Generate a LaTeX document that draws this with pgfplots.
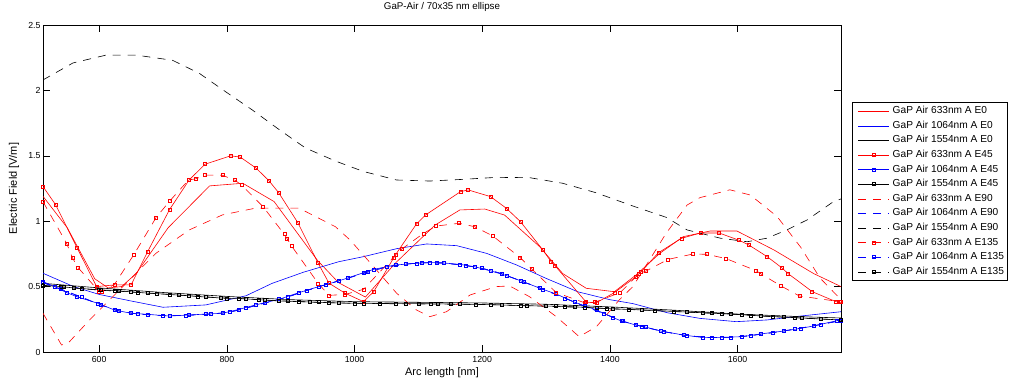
\documentclass[border=0pt]{standalone}
\usepackage{fontspec}
\setmainfont{Liberation Sans}
\usepackage{pgfplots}
\pgfplotsset{compat=1.18}
\definecolor{mred}{rgb}{1,0,0}
\definecolor{mblue}{rgb}{0,0,1}
\begin{document}
\begin{tikzpicture}
\useasboundingbox (-43bp,-33bp) rectangle (968bp,352bp);
\begin{axis}[
  at={(0,0)}, anchor=south west,
  width=798bp, height=327bp, scale only axis,
  xmin=512, xmax=1762, ymin=0, ymax=2.5,
  xtick={600,800,...,1600}, ytick={0,0.5,1,1.5,2,2.5},
  yticklabels={0,0.5,1,1.5,2,2.5},
  tick align=inside, major tick length=7bp,
  axis line style={line width=0.8pt},
  every tick/.style={black, line width=0.6pt},
  tick label style={font=\fontsize{8.8}{9.5}\selectfont},
  /pgf/number format/assume math mode=true,
  /pgf/number format/1000 sep={},
  xticklabel style={yshift=-1bp},
  yticklabel style={xshift=1bp},
  title={GaP-Air / 70x35 nm ellipse},
  title style={font=\fontsize{9.8}{11}\selectfont, at={(axis description cs:0.5,1)}, anchor=south, yshift=4bp},
  xlabel={Arc length [nm]},
  ylabel={Electric Field [V/m]},
  xlabel style={font=\fontsize{11}{12}\selectfont, at={(axis description cs:0.5,-0.0642)}, anchor=center},
  ylabel style={font=\fontsize{11}{12}\selectfont, at={(axis description cs:-0.0363,0.5)}, anchor=center},
  legend style={at={(axis description cs:1.0138,0.765)}, anchor=north west,
    font=\fontsize{10.2}{11}\selectfont, draw=black, line width=0.8pt,
    nodes={inner sep=1bp, text height=7.5bp, text depth=2.5bp},
    row sep=2.6bp, column sep=2.3bp, inner xsep=2.4bp, inner ysep=3bp},
  legend cell align=left,
  legend image code/.code={\path (0bp,0bp); \draw[mark repeat=2,mark phase=2,#1] plot coordinates {(3bp,0bp) (18.5bp,0bp) (34bp,0bp)};},
  every axis plot/.append style={line width=0.6bp},
  mk/.style={mark=square, mark size=1.5bp, mark options={solid, fill=none}},
  dsh/.style={dash pattern=on 8bp off 7bp},
]
% ---------- E0 ----------
\addplot[mred, no marks] coordinates {
(512,1.19) (550,0.95) (593,0.56) (614,0.49) (635,0.50) (658,0.60) (708,0.95) (773,1.27) (825,1.29) (874,1.15) (942,0.70) (975,0.53) (1017,0.42) (1064,0.68) (1126,0.97) (1165,1.086) (1204,1.093) (1235,1.047) (1290,0.805) (1326,0.60) (1363,0.487) (1407,0.461) (1441,0.589) (1478,0.754) (1515,0.882) (1557,0.925) (1599,0.925) (1657,0.78) (1719,0.60) (1762,0.50)};
\addlegendentry{GaP Air 633nm A E0}
\addplot[mblue, no marks] coordinates {
(512,0.602) (560,0.50) (600,0.44) (650,0.39) (700,0.342) (767,0.36) (830,0.43) (871,0.525) (920,0.61) (975,0.69) (1014,0.729) (1066,0.79) (1113,0.826) (1160,0.813) (1207,0.754) (1254,0.665) (1300,0.563) (1350,0.46) (1400,0.40) (1436,0.37) (1490,0.30) (1541,0.257) (1598,0.232) (1646,0.245) (1699,0.275) (1762,0.308)};
\addlegendentry{GaP Air 1064nm A E0}
\addplot[black, no marks] coordinates {
(512,0.525) (600,0.49) (700,0.455) (800,0.425) (900,0.40) (1000,0.385) (1100,0.38) (1200,0.375) (1300,0.365) (1400,0.345) (1500,0.32) (1600,0.29) (1700,0.27) (1762,0.26)};
\addlegendentry{GaP Air 1554nm A E0}
% ---------- E45 ----------
\addplot[mred, mk] coordinates {
(512,1.265) (532,1.124) (565,0.80) (596,0.50) (624,0.513) (650,0.513) (676,0.768) (710,1.087) (741,1.316) (766,1.436) (806,1.50) (821,1.49) (846,1.405) (866,1.309) (881,1.219) (911,0.99) (943,0.679) (960,0.526) (985,0.45) (1014,0.385) (1030,0.461) (1064,0.742) (1097,0.979) (1111,1.047) (1166,1.226) (1178,1.239) (1213,1.188) (1238,1.098) (1260,0.996) (1295,0.78) (1308,0.69) (1314,0.66) (1363,0.38) (1379,0.377) (1407,0.454) (1441,0.576) (1449,0.614) (1476,0.759) (1512,0.869) (1542,0.91) (1571,0.91) (1602,0.855) (1617,0.82) (1646,0.73) (1669,0.645) (1679,0.60) (1717,0.461) (1754,0.385) (1762,0.38)};
\addlegendentry{GaP Air 633nm A E45}
\addplot[mblue, mk] coordinates {
(512,0.538) (530,0.50) (549,0.454) (565,0.423) (598,0.372) (624,0.321) (650,0.296) (676,0.288) (710,0.275) (741,0.283) (767,0.29) (793,0.296) (819,0.326) (845,0.36) (882,0.403) (913,0.454) (944,0.50) (975,0.543) (1014,0.606) (1030,0.632) (1064,0.665) (1097,0.678) (1118,0.685) (1129,0.685) (1165,0.670) (1188,0.652) (1214,0.619) (1238,0.584) (1261,0.543) (1295,0.479) (1316,0.443) (1345,0.38) (1379,0.321) (1404,0.265) (1418,0.237) (1441,0.206) (1457,0.189) (1480,0.16) (1515,0.13) (1546,0.11) (1575,0.112) (1607,0.117) (1636,0.138) (1672,0.16) (1699,0.181) (1719,0.199) (1756,0.24) (1762,0.245)};
\addlegendentry{GaP Air 1064nm A E45}
\addplot[black, mk] coordinates {
(512,0.51) (540,0.50) (560,0.49) (600,0.475) (625,0.47) (650,0.46) (676,0.45) (710,0.44) (741,0.43) (767,0.42) (800,0.41) (819,0.41) (850,0.40) (882,0.39) (913,0.385) (944,0.38) (975,0.375) (1014,0.372) (1064,0.37) (1100,0.37) (1130,0.368) (1165,0.366) (1214,0.362) (1260,0.355) (1316,0.35) (1345,0.345) (1379,0.337) (1404,0.33) (1450,0.322) (1500,0.31) (1546,0.30) (1575,0.293) (1607,0.285) (1636,0.276) (1672,0.267) (1700,0.26) (1762,0.245)};
\addlegendentry{GaP Air 1554nm A E45}
% ---------- E90 ----------
\addplot[mred, no marks, dsh] coordinates {
(512,0.296) (541,0.054) (551,0.066) (585,0.245) (637,0.50) (689,0.755) (741,0.933) (793,1.048) (845,1.10) (882,1.10) (913,1.10) (970,0.958) (993,0.856) (1030,0.652) (1066,0.449) (1097,0.321) (1118,0.27) (1144,0.308) (1181,0.436) (1222,0.50) (1243,0.505) (1274,0.423) (1316,0.27) (1352,0.117) (1379,0.194) (1415,0.40) (1436,0.50) (1488,0.907) (1521,1.124) (1541,1.18) (1588,1.24) (1620,1.20) (1662,1.035) (1699,0.80) (1729,0.566) (1762,0.40)};
\addlegendentry{GaP Air 633nm A E90}
\addplot[mblue, no marks, dsh] coordinates {
(512,0.53) (540,0.48) (572,0.42) (602,0.36) (630,0.315) (660,0.29) (700,0.278) (735,0.28) (775,0.29) (805,0.305) (830,0.335) (860,0.375) (895,0.42) (925,0.47) (955,0.515) (990,0.565) (1020,0.61) (1050,0.65) (1080,0.672) (1105,0.682) (1140,0.68) (1175,0.66) (1200,0.64) (1230,0.60) (1265,0.535) (1290,0.49) (1330,0.41) (1360,0.35) (1390,0.295) (1420,0.235) (1450,0.195) (1485,0.155) (1520,0.125) (1560,0.11) (1590,0.112) (1620,0.125) (1655,0.148) (1690,0.175) (1730,0.21) (1762,0.24)};
\addlegendentry{GaP Air 1064nm A E90}
\addplot[black, no marks, dsh] coordinates {
(512,2.08) (559,2.21) (611,2.27) (658,2.27) (715,2.23) (757,2.13) (798,1.99) (840,1.85) (882,1.70) (923,1.56) (970,1.46) (1014,1.38) (1066,1.315) (1118,1.307) (1170,1.32) (1222,1.335) (1274,1.333) (1326,1.29) (1378,1.218) (1436,1.116) (1488,1.03) (1521,0.933) (1573,0.87) (1615,0.843) (1646,0.87) (1677,0.933) (1709,1.01) (1750,1.149) (1762,1.17)};
\addlegendentry{GaP Air 1554nm A E90}
% ---------- E135 ----------
\addplot[mred, mk, dsh] coordinates {
(512,1.149) (549,0.831) (558,0.721) (567,0.645) (600,0.461) (604,0.461) (624,0.517) (654,0.742) (689,1.027) (711,1.157) (740,1.315) (752,1.325) (766,1.353) (793,1.351) (812,1.315) (823,1.277) (857,1.109) (890,0.90) (894,0.869) (901,0.813) (943,0.525) (960,0.433) (985,0.44) (1014,0.479) (1061,0.724) (1074,0.787) (1108,0.907) (1128,0.963) (1164,0.984) (1188,0.958) (1216,0.889) (1259,0.724) (1277,0.637) (1316,0.454) (1360,0.377) (1377,0.382) (1416,0.454) (1446,0.60) (1457,0.62) (1491,0.708) (1530,0.749) (1552,0.747) (1582,0.714) (1629,0.622) (1637,0.596) (1668,0.505) (1697,0.428) (1760,0.385)};
\addlegendentry{GaP Air 633nm A E135}
\addplot[mblue, mk, dsh] coordinates {
(512,0.53) (540,0.48) (572,0.42) (602,0.36) (630,0.315) (660,0.29) (700,0.278) (735,0.28) (775,0.29) (805,0.305) (830,0.335) (860,0.375) (895,0.42) (925,0.47) (955,0.515) (990,0.565) (1020,0.61) (1050,0.65) (1080,0.672) (1105,0.682) (1140,0.68) (1175,0.66) (1200,0.64) (1230,0.60) (1265,0.535) (1290,0.49) (1330,0.41) (1360,0.35) (1390,0.295) (1420,0.235) (1450,0.195) (1485,0.155) (1520,0.125) (1560,0.11) (1590,0.112) (1620,0.125) (1655,0.148) (1690,0.175) (1730,0.21) (1762,0.24)};
\addlegendentry{GaP Air 1064nm A E135}
\addplot[black, mk, dsh] coordinates {
(512,0.505) (545,0.495) (572,0.485) (602,0.472) (630,0.465) (660,0.455) (690,0.447) (725,0.435) (755,0.425) (790,0.415) (830,0.405) (860,0.397) (895,0.39) (930,0.382) (960,0.376) (1000,0.372) (1040,0.37) (1080,0.368) (1120,0.366) (1150,0.365) (1190,0.363) (1230,0.36) (1270,0.353) (1300,0.35) (1330,0.345) (1360,0.34) (1395,0.332) (1430,0.325) (1470,0.316) (1520,0.305) (1560,0.296) (1590,0.29) (1620,0.28) (1655,0.27) (1690,0.262) (1730,0.252) (1762,0.245)};
\addlegendentry{GaP Air 1554nm A E135}
\end{axis}
\end{tikzpicture}
\end{document}
